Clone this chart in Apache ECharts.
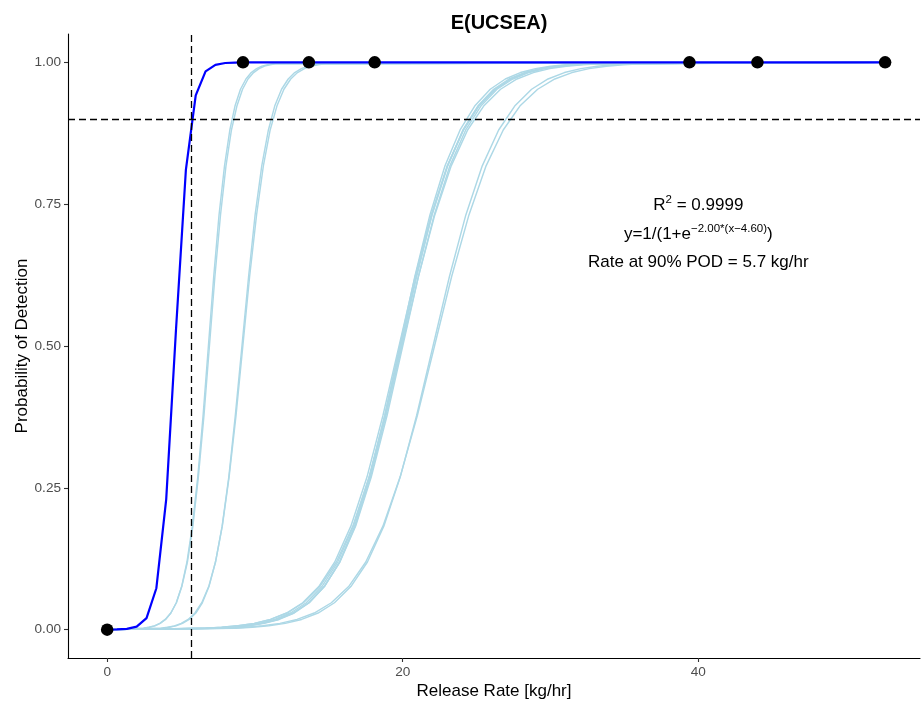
<!DOCTYPE html>
<html><head><meta charset="utf-8">
<script src="https://cdn.jsdelivr.net/npm/echarts@6/dist/echarts.min.js"></script>
<style>html,body{margin:0;padding:0;background:#fff;}#c{width:922px;height:708px;}</style>
</head><body><div id="c"></div>
<script>
// ---- data ----
const chartTitle = 'E(UCSEA)';
const xTicks = [0, 20, 40];
const yTicks = [0, 0.25, 0.5, 0.75, 1.0];
const observedX = [0, 9.19, 13.65, 18.1, 39.4, 44.0, 52.64];
const observedY = [0, 1, 1, 1, 1, 1, 1];
const fitX = [0, 0.666, 1.332, 1.997, 2.663, 3.329, 3.995, 4.661, 5.326, 5.992, 6.658, 7.324, 7.989, 8.655, 9.321, 52.64];
const fitY = [0.0001, 0.0004, 0.0014, 0.0054, 0.0204, 0.0730, 0.2297, 0.5305, 0.8103, 0.9418, 0.9840, 0.9957, 0.9989, 0.9997, 0.9999, 1.0];
const bootY = [0, 0.0025, 0.0041, 0.0067, 0.0110, 0.0180, 0.0293, 0.0474, 0.0759, 0.1192, 0.1824, 0.2689, 0.3775, 0.5, 0.6225, 0.7311, 0.8176, 0.8808, 0.9241, 0.9526, 0.9707, 0.9820, 0.9890, 0.9933, 0.9959, 0.9975, 1];
const bootA1X = [0, 2.50, 2.86, 3.23, 3.59, 3.95, 4.31, 4.68, 5.04, 5.40, 5.76, 6.13, 6.49, 6.85, 7.21, 7.57, 7.94, 8.30, 8.66, 9.02, 9.39, 9.75, 10.11, 10.47, 10.84, 11.20, 52.64];
const bootA2X = [0, 2.44, 2.82, 3.19, 3.56, 3.93, 4.31, 4.68, 5.05, 5.43, 5.80, 6.17, 6.55, 6.92, 7.29, 7.67, 8.04, 8.41, 8.79, 9.16, 9.53, 9.91, 10.28, 10.65, 11.02, 11.40, 52.64];
const bootB1X = [0, 3.76, 4.21, 4.66, 5.10, 5.55, 6.00, 6.44, 6.89, 7.33, 7.78, 8.23, 8.67, 9.12, 9.57, 10.01, 10.46, 10.91, 11.35, 11.80, 12.25, 12.69, 13.14, 13.58, 14.03, 14.48, 52.64];
const bootB2X = [0, 3.62, 4.09, 4.55, 5.01, 5.48, 5.94, 6.40, 6.87, 7.33, 7.79, 8.25, 8.72, 9.18, 9.64, 10.11, 10.57, 11.03, 11.50, 11.96, 12.42, 12.88, 13.35, 13.81, 14.27, 14.74, 52.64];
const bootC1X = [0, 7.08, 8.15, 9.21, 10.28, 11.34, 12.40, 13.47, 14.53, 15.60, 16.66, 17.72, 18.79, 19.85, 20.91, 21.98, 23.04, 24.11, 25.17, 26.23, 27.30, 28.36, 29.42, 30.49, 31.55, 32.62, 52.64];
const bootC2X = [0, 7.56, 8.58, 9.60, 10.62, 11.64, 12.66, 13.68, 14.70, 15.72, 16.74, 17.76, 18.78, 19.80, 20.82, 21.84, 22.86, 23.88, 24.90, 25.92, 26.94, 27.96, 28.98, 30.00, 31.02, 32.05, 52.64];
const bootC3X = [0, 6.62, 7.73, 8.84, 9.95, 11.06, 12.17, 13.28, 14.39, 15.51, 16.62, 17.73, 18.84, 19.95, 21.06, 22.17, 23.28, 24.39, 25.51, 26.62, 27.73, 28.84, 29.95, 31.06, 32.17, 33.28, 52.64];
const bootC4X = [0, 7.40, 8.44, 9.48, 10.53, 11.57, 12.61, 13.65, 14.69, 15.73, 16.78, 17.82, 18.86, 19.90, 20.94, 21.98, 23.03, 24.07, 25.11, 26.15, 27.19, 28.23, 29.28, 30.32, 31.36, 32.40, 52.64];
const bootC5X = [0, 6.71, 7.79, 8.88, 9.97, 11.05, 12.14, 13.23, 14.32, 15.40, 16.49, 17.58, 18.66, 19.75, 20.84, 21.92, 23.01, 24.10, 25.18, 26.27, 27.36, 28.45, 29.53, 30.62, 31.71, 32.79, 52.64];
const bootC6X = [0, 7.23, 8.30, 9.36, 10.43, 11.49, 12.55, 13.62, 14.68, 15.75, 16.81, 17.87, 18.94, 20.00, 21.06, 22.13, 23.19, 24.26, 25.32, 26.38, 27.45, 28.51, 29.57, 30.64, 31.70, 32.77, 52.64];
const bootD1X = [0, 8.72, 9.83, 10.94, 12.05, 13.16, 14.27, 15.38, 16.49, 17.61, 18.72, 19.83, 20.94, 22.05, 23.16, 24.27, 25.38, 26.49, 27.61, 28.72, 29.83, 30.94, 32.05, 33.16, 34.27, 35.38, 52.64];
const bootD2X = [0, 8.20, 9.36, 10.52, 11.69, 12.85, 14.01, 15.17, 16.34, 17.50, 18.66, 19.82, 20.99, 22.15, 23.31, 24.48, 25.64, 26.80, 27.96, 29.13, 30.29, 31.45, 32.61, 33.78, 34.94, 36.10, 52.64];
const refRate = 5.7;
const refPOD = 0.9;
const annX = [40, 40, 40];
const annY = [0.75, 0.70, 0.65];
const annText = ['{a|R}{s|2}{a| = 0.9999}', '{a|y=1/(1+e}{s|\u22122.00*(x\u22124.60)}{a|)}', '{a|Rate at 90% POD = 5.7 kg/hr}'];
const xName = 'Release Rate [kg/hr]';
const yName = 'Probability of Detection';

// ---- chart ----
const FONT = '"Liberation Sans", Arial, Helvetica, sans-serif';
const zip = (xs, ys) => xs.map((x, i) => [x, ys[i]]);
const bootSets = [bootA1X, bootA2X, bootB1X, bootB2X, bootC1X, bootC2X, bootC3X, bootC4X, bootC5X, bootC6X, bootD1X, bootD2X];
const series = [];
bootSets.forEach((xs) => {
  series.push({
    type: 'line', data: zip(xs, bootY), showSymbol: false, symbol: 'none',
    smooth: false, silent: true, z: 2,
    lineStyle: { color: '#ADD8E6', width: 1.45 }
  });
});
series.push({
  type: 'line', data: zip(fitX, fitY), symbol: 'none', silent: true, z: 3,
  lineStyle: { color: '#0000FF', width: 2.2 }
});
series.push({
  type: 'line', data: [], symbol: 'none', silent: true, z: 4,
  markLine: {
    symbol: 'none', silent: true, animation: false, label: { show: false },
    lineStyle: { color: '#000', width: 1.3, type: [7, 4], opacity: 1 },
    emphasis: { disabled: true },
    data: [{ xAxis: refRate }, { yAxis: refPOD }]
  }
});
series.push({
  type: 'scatter', data: zip(observedX, observedY), symbol: 'circle', symbolSize: 12.5, z: 5,
  itemStyle: { color: '#000', opacity: 1 }, silent: true
});
series.push({
  type: 'scatter', data: zip(annX, annY), symbolSize: 1, z: 6, silent: true,
  itemStyle: { color: 'rgba(0,0,0,0)', opacity: 1 },
  label: {
    show: true, position: 'inside', opacity: 1,
    formatter: (p) => annText[p.dataIndex],
    rich: {
      a: { fontFamily: FONT, fontSize: 17, color: '#000', lineHeight: 20, verticalAlign: 'bottom' },
      s: { fontFamily: FONT, fontSize: 11.5, color: '#000', lineHeight: 12, verticalAlign: 'top' }
    }
  }
});

const chart = echarts.init(document.getElementById('c'), null, { renderer: 'canvas' });
chart.setOption({
  animation: false,
  backgroundColor: '#fff',
  title: {
    text: chartTitle, left: 494, top: 8, textAlign: 'center',
    textStyle: { fontFamily: FONT, fontSize: 20, fontWeight: 'bold', color: '#000' }
  },
  grid: { left: 68, right: 2, top: 34, bottom: 50, containLabel: false },
  xAxis: {
    type: 'value', min: -2.65, max: 55.0,
    name: xName, nameLocation: 'middle', nameGap: 25, nameMoveOverlap: false,
    nameTextStyle: { fontFamily: FONT, fontSize: 17, color: '#000' },
    axisLine: { show: true, onZero: false, lineStyle: { color: '#000', width: 1.1 } },
    axisTick: { show: true, length: 4, customValues: xTicks, lineStyle: { color: '#333', width: 1.1 } },
    axisLabel: { customValues: xTicks, margin: 7, fontFamily: FONT, fontSize: 13.6, color: '#4D4D4D' },
    splitLine: { show: false }
  },
  yAxis: {
    type: 'value', min: -0.05, max: 1.05,
    name: yName, nameLocation: 'middle', nameGap: 37, nameRotate: 90, nameMoveOverlap: false,
    nameTextStyle: { fontFamily: FONT, fontSize: 17, color: '#000' },
    axisLine: { show: true, onZero: false, lineStyle: { color: '#000', width: 1.1 } },
    axisTick: { show: true, length: 4, customValues: yTicks, lineStyle: { color: '#333', width: 1.1 } },
    axisLabel: { customValues: yTicks, margin: 7, fontFamily: FONT, fontSize: 13.6, color: '#4D4D4D',
      formatter: (v) => Number(v).toFixed(2) },
    splitLine: { show: false }
  },
  series: series
});
</script></body></html>
